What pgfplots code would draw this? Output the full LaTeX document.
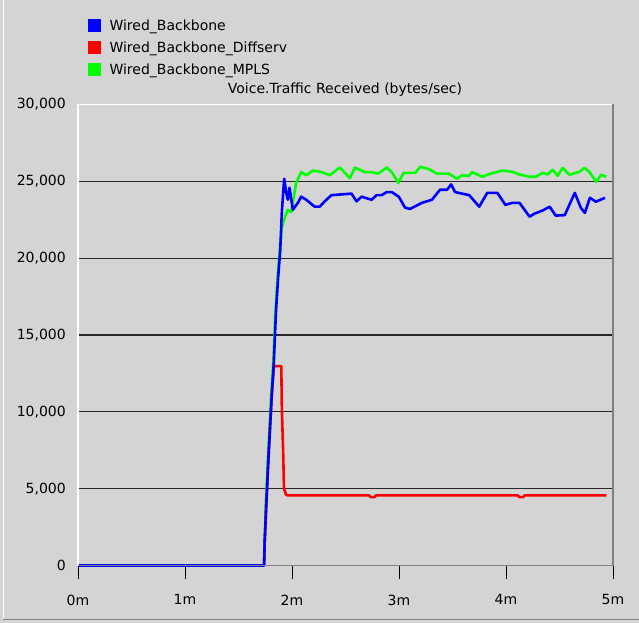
\documentclass[border=0pt]{standalone}
\usepackage{pgfplots}
\pgfplotsset{compat=1.18}
\usepackage{fontspec}
\setmainfont{DejaVu Sans}
\definecolor{bg}{RGB}{212,212,212}
\definecolor{fr}{RGB}{128,128,128}
\definecolor{bl}{RGB}{0,0,255}
\definecolor{rd}{RGB}{255,0,0}
\definecolor{gr}{RGB}{0,255,0}
\begin{document}
\begin{tikzpicture}[font=\fontsize{14bp}{17bp}\selectfont]
\useasboundingbox (0,0) rectangle (639bp,623bp);
\fill[bg] (0,0) rectangle (639bp,623bp);
\draw[white, line width=1.2bp] (3.5bp,3bp) -- (3.5bp,623bp);
\draw[fr, line width=1.2bp] (3bp,3.5bp) -- (639bp,3.5bp);
\begin{axis}[
  at={(78bp,57.5bp)}, anchor=south west,
  width=535bp, height=461bp, scale only axis,
  xmin=0, xmax=5, ymin=0, ymax=30000,
  clip=false,
  axis line style={draw=none},
  xtick={0,1,2,3,4,5}, xticklabels={0m,1m,2m,3m,4m,5m},
  ytick={0,5000,10000,15000,20000,25000,30000},
  scaled y ticks=false,
  /pgf/number format/.cd, 1000 sep={,}, assume math mode=true,
  /pgfplots/.cd,
  xtick pos=bottom, ytick pos=left,
  tick align=outside,
  major tick length=13bp,
  xtick style={black, line width=1bp},
  ytick style={draw=none},
  xticklabel style={anchor=north, inner sep=0pt, yshift=-16bp},
  yticklabel style={anchor=east, inner sep=0pt, xshift=1bp},
  ymajorgrids,
  grid style={black!85, line width=1.2bp},
  title={Voice.Traffic Received (bytes/sec)},
  title style={at={(0.499,1)}, anchor=base, inner sep=0pt, yshift=5bp},
  legend image code/.code={\fill[#1, draw=none] (0bp,-6.5bp) rectangle (13bp,6.5bp); \path (20bp,0bp);},
  legend style={at={(0.0187,1.186)}, anchor=north west, draw=none, fill=none,
    inner sep=0pt, row sep=9bp, nodes={inner sep=0pt, anchor=west}},
  legend cell align=left,
  legend entries={Wired\_Backbone, Wired\_Backbone\_Diffserv, Wired\_Backbone\_MPLS},
  every axis plot/.append style={line width=2.6bp, line join=round},
]
\addlegendimage{fill=bl}
\addlegendimage{fill=rd}
\addlegendimage{fill=gr}
% MPLS (green)
\addplot[gr, forget plot] coordinates {
(0,0) (1.739,0) (1.745,1600) (1.755,4000) (1.775,7000) (1.79,9000) (1.805,11000)
(1.825,13200) (1.845,16500) (1.865,18700) (1.885,20500) (1.905,22000) (1.93,22600)
(1.96,23150) (1.993,23000) (2.039,24900) (2.086,25600) (2.133,25400) (2.196,25700)
(2.274,25600) (2.353,25400) (2.447,25900) (2.541,25200) (2.588,25900) (2.682,25600)
(2.744,25600) (2.807,25500) (2.885,25900) (2.932,25600) (2.995,24900) (3.042,25550)
(3.152,25550) (3.199,25950) (3.277,25800) (3.355,25500) (3.465,25500) (3.543,25170)
(3.590,25400) (3.653,25350) (3.684,25600) (3.778,25300) (3.857,25500) (3.966,25700)
(4.060,25620) (4.123,25450) (4.217,25300) (4.279,25300) (4.342,25550) (4.389,25450)
(4.436,25750) (4.483,25360) (4.530,25880) (4.593,25430) (4.687,25620) (4.734,25880)
(4.781,25600) (4.843,24970) (4.890,25430) (4.937,25300)
};
% Diffserv (red)
\addplot[rd, forget plot] coordinates {
(0,0) (1.739,0) (1.745,1600) (1.76,4000) (1.78,7000) (1.795,9000) (1.81,11000)
(1.83,12900) (1.84,12975) (1.90,12975) (1.905,10240) (1.917,7500) (1.925,5020)
(1.945,4600) (1.96,4565) (2.72,4565) (2.735,4450) (2.77,4450) (2.785,4565)
(4.11,4565) (4.125,4450) (4.16,4450) (4.175,4565) (4.937,4565)
};
% Wired_Backbone (blue)
\addplot[bl, forget plot] coordinates {
(0,0) (1.739,0) (1.745,1600) (1.76,4000) (1.78,7000) (1.795,9000) (1.81,11000)
(1.83,13200) (1.85,16500) (1.87,18700) (1.89,20500) (1.905,23000) (1.927,25170)
(1.945,24300) (1.961,23800) (1.977,24580) (2.008,23150) (2.055,23600) (2.086,24000)
(2.133,23800) (2.212,23350) (2.259,23350) (2.306,23700) (2.368,24100) (2.556,24200)
(2.603,23700) (2.650,24000) (2.697,23900) (2.744,23800) (2.791,24100) (2.838,24100)
(2.885,24300) (2.932,24300) (2.998,24000) (3.055,23300) (3.102,23200) (3.214,23600)
(3.308,23800) (3.383,24450) (3.449,24450) (3.487,24800) (3.524,24300) (3.656,24100)
(3.750,23350) (3.825,24250) (3.919,24250) (3.994,23470) (4.060,23600) (4.126,23600)
(4.220,22700) (4.267,22900) (4.342,23100) (4.408,23350) (4.464,22770) (4.549,22800)
(4.643,24250) (4.699,23280) (4.737,22950) (4.784,23930) (4.840,23670) (4.925,23930)
};
\draw[white, line width=1.5bp] (rel axis cs:0,0) -- (rel axis cs:0,1) -- (rel axis cs:1,1);
\draw[fr, line width=1.5bp] (rel axis cs:1,1) -- (rel axis cs:1,0) -- (rel axis cs:0,0);
\end{axis}
\end{tikzpicture}
\end{document}
